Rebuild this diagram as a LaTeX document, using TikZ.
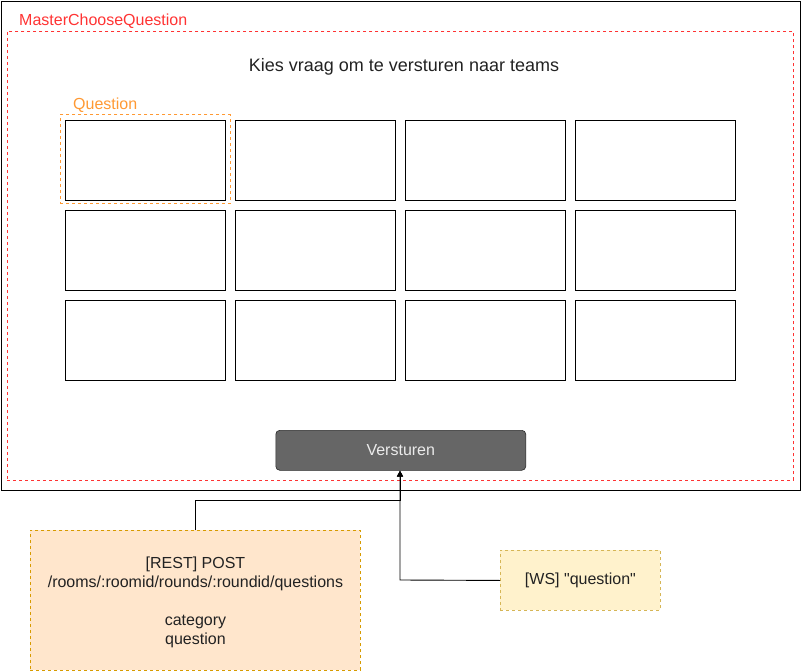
\documentclass[tikz,border=0pt]{standalone}
\usepackage{fontspec}
\setmainfont{Liberation Sans}[Ligatures=TeXOff]
\usetikzlibrary{arrows.meta}
\definecolor{redl}{HTML}{FF3333}
\definecolor{orgl}{HTML}{FF9933}
\definecolor{restfill}{HTML}{FFE6CC}
\definecolor{restdraw}{HTML}{D79B00}
\definecolor{wsfill}{HTML}{FFF2CC}
\definecolor{wsdraw}{HTML}{D6B656}
\definecolor{btn}{HTML}{666666}
\definecolor{txt}{HTML}{222222}
\tikzset{
  cell/.style={draw=black, line width=0.9pt, minimum width=160pt, minimum height=80pt, inner sep=0pt, anchor=north west},
  conn/.style={draw=black, line width=0.9pt},
  arr/.style={conn, -{Triangle[length=6pt,width=6pt]}},
  note/.style={dashed, dash pattern=on 3pt off 3pt, line width=0.9pt, inner sep=0pt, anchor=north west, align=center, font=\fontsize{16pt}{19pt}\selectfont, text=txt},
}
\begin{document}
\begin{tikzpicture}[x=1pt,y=-1pt]
\useasboundingbox (0,0) rectangle (801,671);
% outer frame
\node[draw=black, line width=1pt, minimum width=799pt, minimum height=489pt, inner sep=0pt, anchor=north west] (frame) at (1,1) {};
% red dashed container
\node[draw=redl, dashed, dash pattern=on 3pt off 3pt, line width=0.8pt, minimum width=786pt, minimum height=449pt, inner sep=0pt, anchor=north west] (master) at (7,31) {};
\node[anchor=west, text=redl, font=\fontsize{16pt}{19pt}\selectfont, inner sep=0pt] (masterlbl) at (19,21.5) {MasterChooseQuestion};
% title
\node[font=\fontsize{18pt}{21pt}\selectfont, text=txt, inner sep=0pt] (title) at (404,67) {Kies vraag om te versturen naar teams};
% orange dashed question frame
\node[draw=orgl, dashed, dash pattern=on 3pt off 3pt, line width=0.8pt, minimum width=170pt, minimum height=89pt, inner sep=0pt, anchor=north west] (qframe) at (60,114.5) {};
\node[anchor=west, text=orgl, font=\fontsize{16pt}{19pt}\selectfont, inner sep=0pt] (qlbl) at (73,105.5) {Question};
% grid
\foreach \r/\y in {1/120,2/210,3/300}{
  \foreach \c/\x in {1/65,2/235,3/405,4/575}{
    \node[cell] (c\r\c) at (\x,\y) {};
  }
}
% button
\node[draw=black!60!btn, fill=btn, rounded corners=4pt, minimum width=250pt, minimum height=40pt, inner sep=0pt, anchor=north west, text=white!92!black, font=\fontsize{16pt}{19pt}\selectfont, line width=0.6pt, text depth=0pt] (btn) at (275.5,430) {Versturen};
% notes
\node[note, draw=restdraw, fill=restfill, minimum width=330pt, minimum height=140pt, text depth=0pt] (rest) at (30,530) {[REST] POST\\/rooms/:roomid/rounds/:roundid/questions\\[19pt]category\\question};
\node[note, draw=wsdraw, fill=wsfill, minimum width=160pt, minimum height=60pt] (ws) at (500,550) {[WS] "question"};
% connectors
\coordinate (j1) at (195,500);
\coordinate (j2) at (400,500);
\coordinate (j3) at (400,580);
\draw[arr] (rest.north -| j1) -- (j1) -- (j2) -- (btn.south -| j2);
\draw[arr] (ws.west) -- (j3) -- (btn.south -| j3);
\end{tikzpicture}
\end{document}
